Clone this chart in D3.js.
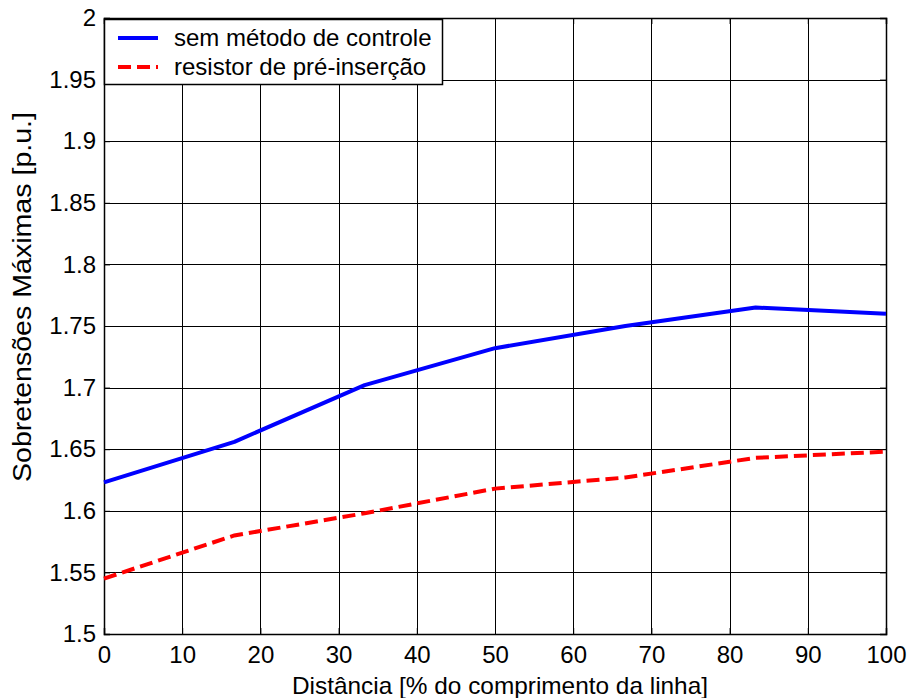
<!DOCTYPE html>
<html><head><meta charset="utf-8">
<script src="https://cdn.jsdelivr.net/npm/d3@7"></script>
<style>body{margin:0;background:#fff}svg{display:block}text{font-family:"Liberation Sans",Arial,sans-serif;fill:#000}</style>
</head><body><svg id="c" width="911" height="698"></svg>
<script>
const xValues = [0, 16.67, 33.33, 50, 66.67, 83.33, 100];
const semMetodo = [1.623, 1.656, 1.702, 1.732, 1.750, 1.765, 1.760];
const resistor = [1.545, 1.580, 1.598, 1.618, 1.627, 1.643, 1.648];
const xTicks = [0,10,20,30,40,50,60,70,80,90,100];
const yTicks = [1.5,1.55,1.6,1.65,1.7,1.75,1.8,1.85,1.9,1.95,2];
const seriesNames = ["sem método de controle", "resistor de pré-inserção"];
const xLabel = "Distância [% do comprimento da linha]";
const yLabel = "Sobretensões Máximas [p.u.]";

const svg = d3.select("#c");
const L=104, R=886, T=18, B=634;
const x = d3.scaleLinear().domain([0,100]).range([L,R]);
const y = d3.scaleLinear().domain([1.5,2]).range([B,T]);

const g = svg.append("g");
g.selectAll(".vg").data(xTicks).enter().append("line")
  .attr("x1",d=>Math.round(x(d))+0.5).attr("x2",d=>Math.round(x(d))+0.5)
  .attr("y1",T).attr("y2",B).attr("stroke","#000").attr("stroke-width",1);
g.selectAll(".hg").data(yTicks).enter().append("line")
  .attr("y1",d=>Math.round(y(d))+0.5).attr("y2",d=>Math.round(y(d))+0.5)
  .attr("x1",L).attr("x2",R).attr("stroke","#000").attr("stroke-width",1);

const fmtY = d=> String(+d.toFixed(2));
const xa = svg.append("g").attr("transform",`translate(0,${B})`)
  .call(d3.axisBottom(x).tickValues(xTicks).tickSize(-6).tickPadding(12).tickFormat(d=>d));
const ya = svg.append("g").attr("transform",`translate(${L},0)`)
  .call(d3.axisLeft(y).tickValues(yTicks).tickSize(-6).tickPadding(8).tickFormat(fmtY));
svg.append("g").attr("transform",`translate(0,${T})`)
  .call(d3.axisTop(x).tickValues(xTicks).tickSize(-6).tickFormat(""));
svg.append("g").attr("transform",`translate(${R},0)`)
  .call(d3.axisRight(y).tickValues(yTicks).tickSize(-6).tickFormat(""));
svg.selectAll(".domain").attr("stroke","#000").attr("stroke-width",1.5);
svg.selectAll(".tick line").attr("stroke","#000");
svg.selectAll(".tick text").attr("font-size",24).attr("font-family","'Liberation Sans',Arial,sans-serif").attr("fill","#000");
xa.selectAll(".tick text").attr("dy","0.71em");

const line = d3.line().x((d,i)=>x(xValues[i])).y(d=>y(d));
svg.append("path").datum(semMetodo).attr("d",line).attr("fill","none")
  .attr("stroke","#0000ff").attr("stroke-width",4).attr("stroke-linejoin","round");
svg.append("path").datum(resistor).attr("d",line).attr("fill","none")
  .attr("stroke","#ff0000").attr("stroke-width",4).attr("stroke-dasharray","13,6");

svg.append("text").attr("x",500).attr("y",694).attr("text-anchor","middle")
  .attr("font-size",24).attr("textLength",416).attr("lengthAdjust","spacingAndGlyphs").text(xLabel);
svg.append("text").attr("transform",`translate(31,297) rotate(-90)`).attr("text-anchor","middle")
  .attr("font-size",25).attr("textLength",370).attr("lengthAdjust","spacingAndGlyphs").text(yLabel);

const lg = svg.append("g");
lg.append("rect").attr("x",104.5).attr("y",19.5).attr("width",338).attr("height",65)
  .attr("fill","#fff").attr("stroke","#000").attr("stroke-width",1.5);
const cols = ["#0000ff","#ff0000"], dashes=[null,"13,6"];
seriesNames.forEach((n,i)=>{
  const yy = 38 + i*29;
  lg.append("line").attr("x1",118).attr("x2",158).attr("y1",yy).attr("y2",yy)
    .attr("stroke",cols[i]).attr("stroke-width",4).attr("stroke-dasharray",dashes[i]);
  lg.append("text").attr("x",174).attr("y",yy+8).attr("font-size",24).text(n);
});
</script></body></html>
